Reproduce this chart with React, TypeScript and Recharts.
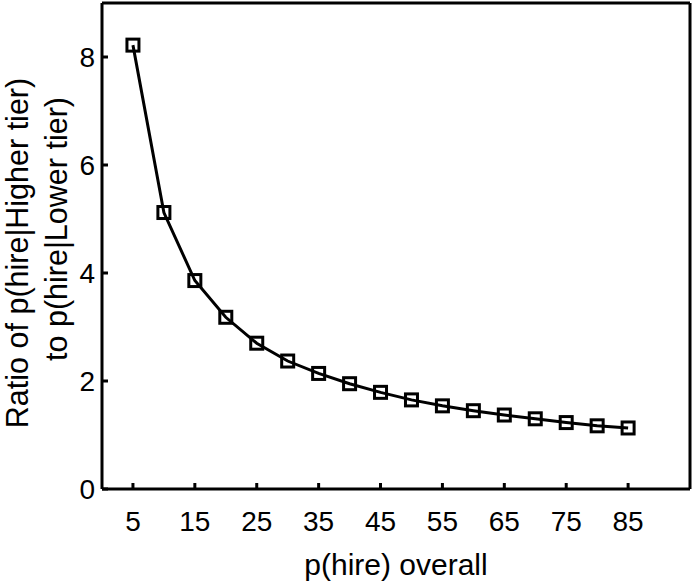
import React from "react";
import { LineChart, Line, XAxis, YAxis } from "recharts";

const hireOverall = [5, 10, 15, 20, 25, 30, 35, 40, 45, 50, 55, 60, 65, 70, 75, 80, 85];
const tierRatio = [8.22, 5.12, 3.86, 3.18, 2.7, 2.37, 2.14, 1.95, 1.79, 1.65, 1.54, 1.45, 1.37, 1.3, 1.23, 1.17, 1.13];
const xTicks = [5, 15, 25, 35, 45, 55, 65, 75, 85];
const yTicks = [0, 2, 4, 6, 8];

const data = hireOverall.map((p, i) => ({ p, ratio: tierRatio[i] }));

const FONT = "'Liberation Sans', Arial, sans-serif";
const axisStroke = { stroke: "#000", strokeWidth: 3 };

const SquareDot = (props: any) => {
  const { cx, cy, index } = props;
  if (cx == null || cy == null) return null;
  return (
    <rect
      key={`sq-${index}`}
      x={cx - 6}
      y={cy - 6}
      width={12}
      height={12}
      fill="none"
      stroke="#000"
      strokeWidth={3}
    />
  );
};

const XLabel = () => (
  <text x={396} y={575} textAnchor="middle" fontSize={30} fontFamily={FONT} fill="#000">
    p(hire) overall
  </text>
);

const YLabel = () => (
  <g fontSize={30.5} fontFamily={FONT} fill="#000">
    <text x={28} y={253} textAnchor="middle" transform="rotate(-90, 28, 253)">
      Ratio of p(hire|Higher tier)
    </text>
    <text x={67} y={229} textAnchor="middle" transform="rotate(-90, 67, 229)">
      to p(hire|Lower tier)
    </text>
  </g>
);

export default function App() {
  return (
    <div style={{ position: "absolute", left: 0, top: 0, background: "#fff" }}>
      <LineChart width={695} height={581} data={data} margin={{ top: 2, right: 4, left: 0, bottom: 0 }}>
        <XAxis
          type="number"
          dataKey="p"
          domain={[0, 95]}
          ticks={xTicks}
          height={92}
          axisLine={axisStroke}
          tickLine={axisStroke}
          tickSize={-6}
          tickMargin={28}
          tick={{ fill: "#000", fontSize: 28, fontFamily: FONT }}
          label={<XLabel />}
        />
        <XAxis
          xAxisId="top"
          orientation="top"
          type="number"
          dataKey="p"
          domain={[0, 95]}
          ticks={xTicks}
          height={1}
          axisLine={axisStroke}
          tickLine={axisStroke}
          tickSize={-6}
          tick={false}
        />
        <YAxis
          type="number"
          domain={[0, 9]}
          ticks={yTicks}
          width={102}
          axisLine={axisStroke}
          tickLine={axisStroke}
          tickSize={-6}
          tickMargin={13}
          tick={{ fill: "#000", fontSize: 28, fontFamily: FONT }}
          label={<YLabel />}
        />
        <YAxis
          yAxisId="right"
          orientation="right"
          type="number"
          domain={[0, 9]}
          ticks={yTicks}
          width={1}
          axisLine={axisStroke}
          tickLine={axisStroke}
          tickSize={-6}
          tick={false}
        />
        <Line
          type="linear"
          dataKey="ratio"
          stroke="#000"
          strokeWidth={3}
          dot={<SquareDot />}
          activeDot={false}
          isAnimationActive={false}
        />
      </LineChart>
    </div>
  );
}
